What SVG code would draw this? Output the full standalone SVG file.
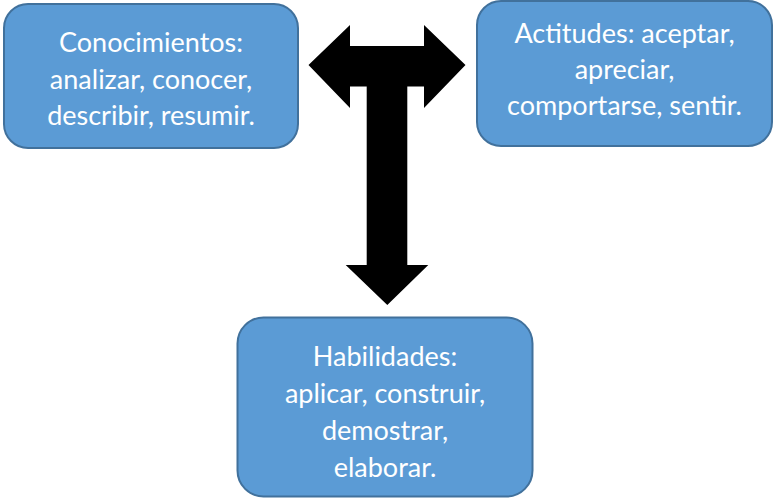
<svg xmlns="http://www.w3.org/2000/svg" width="774" height="499" viewBox="0 0 774 499">
<style>
.box{fill:#5B9BD5;stroke:#41719C;stroke-width:2}
.t{font-family:Lato,"Open Sans","Liberation Sans",sans-serif;font-size:27px;fill:#FFFFFF;text-anchor:middle}
</style>
<rect width="774" height="499" fill="#FFFFFF"/>
<g id="connectors">
<path d="M308.5,65 L350,25 L350,46 L424,46 L424,25 L465.5,65 L424,108 L424,86.5 L407.3,86.5 L407.3,265 L428.3,265 L387.3,305 L345.7,265 L366.7,265 L366.7,86.5 L350,86.5 L350,108 Z" fill="#000000"/>
</g>
<g id="conocimientos">
<rect class="box" x="4" y="4" width="294" height="144" rx="24"/>
<text class="t" x="151" y="52">Conocimientos:</text>
<text class="t" x="151" y="89">analizar, conocer,</text>
<text class="t" x="151" y="125">describir, resumir.</text>
</g>
<g id="actitudes">
<rect class="box" x="477" y="1" width="295" height="145" rx="24"/>
<text class="t" x="624.5" y="43">Actitudes: aceptar,</text>
<text class="t" x="624.5" y="79">apreciar,</text>
<text class="t" x="624.5" y="115">comportarse, sentir.</text>
</g>
<g id="habilidades">
<rect class="box" x="237.5" y="317.5" width="295" height="179" rx="26"/>
<text class="t" x="385" y="366">Habilidades:</text>
<text class="t" x="385" y="403">aplicar, construir,</text>
<text class="t" x="385" y="440">demostrar,</text>
<text class="t" x="385" y="477">elaborar.</text>
</g>
</svg>
